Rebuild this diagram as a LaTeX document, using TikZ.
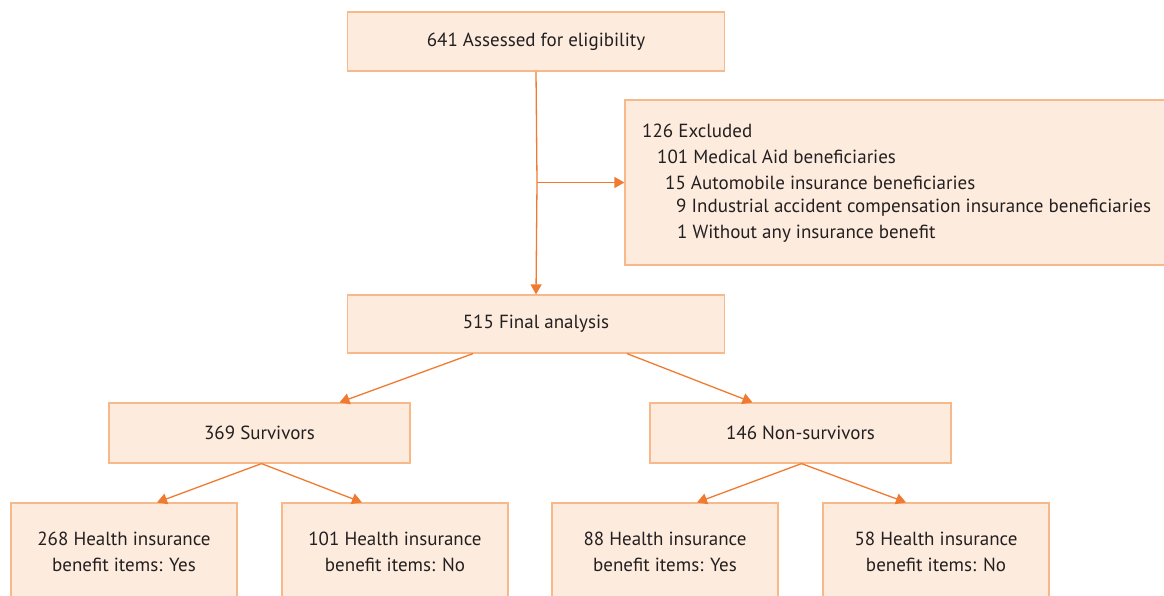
\documentclass[tikz,border=0pt]{standalone}
\usepackage{fontspec}
\setmainfont{PT Sans}
\usetikzlibrary{arrows.meta}
\definecolor{boxfill}{HTML}{FDECDE}
\definecolor{boxline}{HTML}{F8B98A}
\definecolor{arr}{HTML}{F07A30}
\definecolor{txt}{HTML}{231F20}
\tikzset{
  box/.style={draw=boxline, fill=boxfill, line width=1.2pt, rectangle, inner sep=0pt, text=txt, font=\fontsize{19}{26}\selectfont, align=center},
  conn/.style={draw=arr, line width=1.3pt, -{Triangle[length=10pt,width=11pt]}},
  ltxt/.style={anchor=west, inner sep=0pt, text=txt, font=\fontsize{19}{26}\selectfont}
}
\begin{document}
\begin{tikzpicture}[x=1pt,y=-1pt]
\clip (0,0) rectangle (1164,595);
\useasboundingbox (0,0) rectangle (1164,595);
\node[box, minimum width=377pt, minimum height=59pt] (top) at (536,41.5) {641 Assessed for eligibility};
\node[box, minimum width=560pt, minimum height=165pt] (excl) at (905,182.5) {};
\node[ltxt] (e1) at (642,130.5) {126 Excluded};
\node[ltxt] (e2) at (657,156.5) {101 Medical Aid beneficiaries};
\node[ltxt] (e3) at (665,182.5) {15 Automobile insurance beneficiaries};
\node[ltxt] (e4) at (676,207.5) {9 Industrial accident compensation insurance beneficiaries};
\node[ltxt] (e5) at (677,233.5) {1 Without any insurance benefit};
\node[box, minimum width=377pt, minimum height=58pt] (final) at (536,324) {515 Final analysis};
\node[box, minimum width=301pt, minimum height=60pt] (surv) at (259.5,433) {369 Survivors};
\node[box, minimum width=301pt, minimum height=60pt] (nons) at (800.5,433) {146 Non-survivors};
\node[box, minimum width=226pt, minimum height=110pt] (b1) at (124,558) {};
\node[box, minimum width=226pt, minimum height=110pt] (b2) at (395,558) {};
\node[box, minimum width=226pt, minimum height=110pt] (b3) at (665,558) {};
\node[box, minimum width=226pt, minimum height=110pt] (b4) at (936,558) {};
\node[box, inner sep=0pt, draw=none, fill=none] (t1) at (124,552) {268 Health insurance\\benefit items: Yes};
\node[box, inner sep=0pt, draw=none, fill=none] (t2) at (395,552) {101 Health insurance\\benefit items: No};
\node[box, inner sep=0pt, draw=none, fill=none] (t3) at (665,552) {88 Health insurance\\benefit items: Yes};
\node[box, inner sep=0pt, draw=none, fill=none] (t4) at (936,552) {58 Health insurance\\benefit items: No};
\coordinate (j) at (537,182.5);
\draw[draw=arr, line width=1.3pt] (top.south) -- (j);
\draw[conn] (j) -- (final.north);
\draw[conn] (j) -- (excl.west);
\draw[conn] ([xshift=-63pt]final.south) -- ([xshift=80pt]surv.north);
\draw[conn] ([xshift=91pt]final.south) -- ([xshift=-48pt]nons.north);
\draw[conn] ([xshift=2pt]surv.south) -- ([xshift=33pt]b1.north);
\draw[conn] ([xshift=2pt]surv.south) -- ([xshift=-33pt]b2.north);
\draw[conn] ([xshift=1pt]nons.south) -- ([xshift=32pt]b3.north);
\draw[conn] ([xshift=1pt]nons.south) -- ([xshift=-30pt]b4.north);
\end{tikzpicture}
\end{document}
